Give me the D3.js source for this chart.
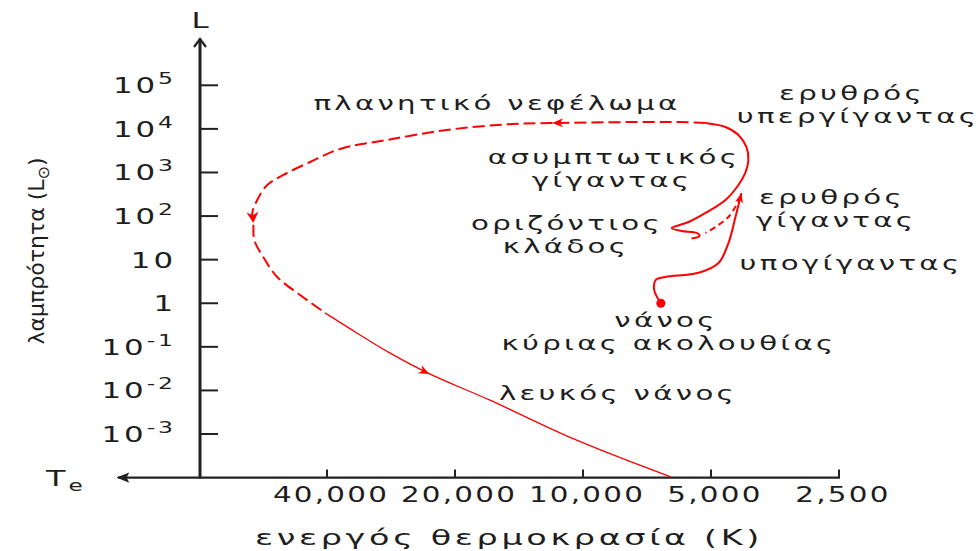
<!DOCTYPE html>
<html><head><meta charset="utf-8">
<script src="https://cdn.jsdelivr.net/npm/d3@7"></script>
<style>body{margin:0;background:#fff}svg text{font-family:"DejaVu Sans",sans-serif;fill:#1e1e1e}</style>
</head><body>
<svg id="c" width="978" height="551"></svg>
<script>
// ---- data ----
const lumTicks = [1e5, 1e4, 1e3, 1e2, 10, 1, 0.1, 0.01, 0.001];
const lumBase = ["10", "10", "10", "10", "10", "1", "10", "10", "10"];
const lumExp = ["5", "4", "3", "2", "", "", "-1", "-2", "-3"];
const tempTicks = [40000, 20000, 10000, 5000, 2500];
const tempLabels = ["40,000", "20,000", "10,000", "5,000", "2,500"];
// evolutionary track segments: [Teff (K), L (Lsun)]
const mainSequence = [6560, 1.0];
const subgiantRGB = [[6560,1.0],[6800,2.0],[6750,3.4],[6400,4.0],[5350,5.0],[4800,8.4],[4550,24],[4380,95],[4240,340]];
const heliumFlash = [[4264,274],[4550,95],[5151,41]];
const horizontalAGB = [[5555,30.6],[5319,35],[5407,41],[5865,45.5],[6186,53],[5644,73],[5151,118],[4623,234],[4310,517],[4153,975],[4084,1935],[4128,3846],[4310,7244],[4623,11060],[5151,13650]];
const planetaryNebula = [[5151,13650],[5958,14390],[11820,13650],[14670,12950],[20930,9440],[28940,5565],[37270,3460],[43830,1742],[50680,876],[55290,517],[58370,234],[59950,118],[59620,69.5],[59290,28.3],[56500,11.5],[52380,4.0],[46270,1.55],[40430,0.6]];
const whiteDwarf = [[40430,0.6],[34030,0.208],[28480,0.0725],[22950,0.0239],[16600,0.00605],[10380,0.00073],[6220,0.000104]];
const labels = [["πλανητικό νεφέλωμα"],["ερυθρός","υπεργίγαντας"],["ασυμπτωτικός","γίγαντας"],["ερυθρός","γίγαντας"],["οριζόντιος","κλάδος"],["υπογίγαντας"],["νάνος","κύριας ακολουθίας"],["λευκός νάνος"]];
const yTitle = "λαμπρότητα (L";
const xTitle = "ενεργός θερμοκρασία (K)";

// ---- layout ----
const labelPos = [[[497,110]],[[852,100],[858,123]],[[614,164],[612,187]],[[832,204.5],[836,227.5]],[[567,230],[566,253]],[[851,270]],[[666,327.5],[669,350.5]],[[618,400]]];
const SX = 1.5, LS = 2.2, FS = 19.5;
const svg = d3.select("#c");
const x = d3.scaleLog().domain([40000, 2500]).range([327, 839]);
const y = d3.scaleLog().domain([1e-4, 1e5]).range([477.6, 85.3]);
const ax = 200, ay = y(1e-4);

function wide(str, px, py, size, anchor, sx, ls) {
  return svg.append("text")
    .attr("transform", `translate(${px},${py}) scale(${sx || SX},1)`)
    .attr("text-anchor", anchor || "middle")
    .attr("font-size", size)
    .attr("letter-spacing", ls == null ? LS : ls)
    .text(str);
}

// axes
const axes = svg.append("g").attr("stroke", "#222").attr("fill", "none");
axes.append("line").attr("x1", ax).attr("x2", ax).attr("y1", ay + 1).attr("y2", 39).attr("stroke-width", 3);
axes.append("path").attr("d", `M${ax-6},47 L${ax},39 L${ax+6},47`).attr("stroke-width", 2.2);
axes.append("line").attr("x1", 118).attr("x2", 840).attr("y1", ay).attr("y2", ay).attr("stroke-width", 2.2);
svg.append("path").attr("d", `M118,${ay} L128,${ay-4} L126,${ay} L128,${ay+4} Z`).attr("fill", "#222").attr("stroke","#222").attr("stroke-width",1.2);
axes.selectAll(".yt").data(lumTicks).enter().append("line")
  .attr("x1", ax).attr("x2", ax + 18).attr("y1", d => y(d)).attr("y2", d => y(d)).attr("stroke-width", 2);
axes.selectAll(".xt").data(tempTicks).enter().append("line")
  .attr("x1", d => x(d)).attr("x2", d => x(d)).attr("y1", ay).attr("y2", ay - 8).attr("stroke-width", 2);

// y tick labels
lumTicks.forEach((v, i) => {
  const t = svg.append("text")
    .attr("transform", `translate(176,${y(v) + 8}) scale(1.47,1)`)
    .attr("text-anchor", "end").attr("font-size", 21).attr("letter-spacing", 2);
  t.append("tspan").text(lumBase[i]);
  if (lumExp[i]) t.append("tspan").attr("font-size", 16).attr("dy", -9).text(lumExp[i]);
});
// x tick labels
tempTicks.forEach((v, i) => wide(tempLabels[i], x(v) + 4, 502, 21, "middle", 1.4, 1.6));

// axis letters
wide("L", ax, 28, 22, "middle", 1.4, 0);
const te = svg.append("text").attr("transform", `translate(46,486) scale(1.45,1)`).attr("font-size", 22).attr("letter-spacing", 2);
te.append("tspan").text("T");
te.append("tspan").attr("font-size", 16).attr("dy", 5).text("e");

// titles
wide(xTitle, 509, 545, 22, "middle", 1.52, 2.4);
const yt = svg.append("text").attr("transform", "translate(44,251) rotate(-90)").attr("text-anchor", "middle").attr("font-size", 22);
yt.append("tspan").text(yTitle);
yt.append("tspan").attr("font-size", 16).attr("dy", 5).text("⊙");
yt.append("tspan").attr("dy", -5).text(")");

// annotations (multi-line labels as one text each)
labels.forEach((lines, i) => {
  const t = svg.append("text").attr("transform", `scale(${SX},1)`).attr("text-anchor", "middle")
    .attr("font-size", FS).attr("letter-spacing", LS);
  lines.forEach((s, j) => t.append("tspan").attr("x", labelPos[i][j][0] / SX).attr("y", labelPos[i][j][1]).text(s));
});

// track
const line = d3.line().x(d => x(d[0])).y(d => y(d[1])).curve(d3.curveCatmullRom.alpha(0.5));
const track = svg.append("g").attr("fill", "none").attr("stroke", "#ff0000").attr("stroke-linecap", "butt");
track.append("path").attr("d", line(subgiantRGB)).attr("stroke-width", 2);
track.append("path").attr("d", line(heliumFlash)).attr("stroke-width", 2).attr("stroke-dasharray", "6,4");
track.append("path").attr("d", line(horizontalAGB)).attr("stroke-width", 2);
track.append("path").attr("d", line(planetaryNebula)).attr("stroke-width", 2).attr("stroke-dasharray", "12,5");
track.append("path").attr("d", line(whiteDwarf)).attr("stroke-width", 1.3);
svg.append("circle").attr("cx", x(mainSequence[0])).attr("cy", y(mainSequence[1])).attr("r", 4.5).attr("fill", "#ff0000");

function arrow(seg, i, len, half) {
  const a = seg[Math.max(0, i - 1)], b = seg[Math.min(seg.length - 1, i + 1)], p = seg[i];
  const ang = Math.atan2(y(b[1]) - y(a[1]), x(b[0]) - x(a[0])) * 180 / Math.PI;
  svg.append("path").attr("d", `M0,0 L${-len},${-half} L${-len*0.7},0 L${-len},${half} Z`)
    .attr("transform", `translate(${x(p[0])},${y(p[1])}) rotate(${ang})`).attr("fill", "#ff0000");
}
arrow(subgiantRGB, subgiantRGB.length - 1, 10, 4);
arrow(planetaryNebula, 2, 11, 4.5);
arrow(planetaryNebula, 12, 11, 6);
arrow(whiteDwarf, 3, 11, 4.5);
</script>
</body></html>
